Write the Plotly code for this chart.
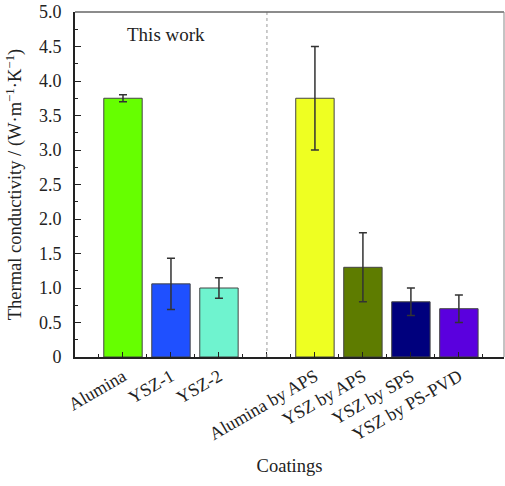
import plotly.graph_objects as go

# ---- data ----
slots = ["Alumina", "YSZ-1", "YSZ-2", "", "Alumina by APS", "YSZ by APS", "YSZ by SPS", "YSZ by PS-PVD"]
categories = [c for c in slots if c]
values = [3.75, 1.06, 1.00, 3.75, 1.30, 0.80, 0.70]
err_plus = [0.05, 0.37, 0.15, 0.75, 0.50, 0.20, 0.20]
err_minus = [0.05, 0.37, 0.15, 0.75, 0.50, 0.20, 0.20]
colors = ["#66ff00", "#1f50ff", "#6ff3cf", "#eeff22", "#5e7c00", "#00007d", "#5a00de"]
y_ticks = [0, 0.5, 1.0, 1.5, 2.0, 2.5, 3.0, 3.5, 4.0, 4.5, 5.0]
y_ticktext = ["0", "0.5", "1.0", "1.5", "2.0", "2.5", "3.0", "3.5", "4.0", "4.5", "5.0"]

x_pos = [i + 1 for i, c in enumerate(slots) if c]
gap_pos = [i + 1 for i, c in enumerate(slots) if not c]

FONT = "Liberation Serif"

fig = go.Figure()
fig.add_trace(go.Bar(
    x=x_pos, y=values, width=0.8,
    marker=dict(color=colors, line=dict(color="#444444", width=1)),
    error_y=dict(type="data", symmetric=False, array=err_plus, arrayminus=err_minus,
                 color="#333333", thickness=1.5, width=4),
    showlegend=False,
))

for g in gap_pos:
    fig.add_shape(type="line", x0=g, x1=g, y0=0, y1=1, xref="x", yref="paper",
                  line=dict(color="#999999", width=1, dash="dot"))

# top and right frame
fig.add_shape(type="line", x0=0, x1=1, y0=1, y1=1, xref="paper", yref="paper",
              line=dict(color="#666666", width=1.5))
fig.add_shape(type="line", x0=1, x1=1, y0=0, y1=1, xref="paper", yref="paper",
              line=dict(color="#888888", width=1))

fig.add_annotation(x=1.9, y=4.67, text="This work", showarrow=False,
                   font=dict(family=FONT, size=19, color="#222222"))

fig.update_layout(
    width=505, height=486,
    margin=dict(l=75, r=1, t=12, b=129, autoexpand=False),
    paper_bgcolor="white", plot_bgcolor="white",
    font=dict(family=FONT, size=18, color="#222222"),
    xaxis=dict(
        range=[0, 8.94], tickmode="array",
        tickvals=list(range(0, 9)),
        ticktext=[""] + [c for c in slots],
        tickangle=-30, ticks="inside", ticklen=5, tickcolor="#222222",
        showline=True, linecolor="#222222", linewidth=2,
        showgrid=False, zeroline=False, automargin=False,
        minor=dict(dtick=0.5, tick0=0, ticks="inside", ticklen=3, tickcolor="#222222"),
        title=dict(text="Coatings", font=dict(size=18.5), standoff=16),
    ),
    yaxis=dict(
        range=[0, 5], tickmode="array", tickvals=y_ticks, ticktext=y_ticktext,
        ticks="inside", ticklen=6, tickcolor="#222222",
        showline=True, linecolor="#222222", linewidth=2,
        showgrid=False, zeroline=False, automargin=False,
        minor=dict(dtick=0.25, tick0=0, ticks="inside", ticklen=3, tickcolor="#222222"),
        ticklabelstandoff=8,
        title=dict(text="Thermal conductivity / (W·m<sup>−1</sup>·K<sup>−1</sup>)",
                   font=dict(size=18.5), standoff=12),
    ),
)

fig.write_html("out.html", config={"displayModeBar": False},
               post_script="document.body.style.margin='0px';document.body.style.overflow='hidden';")
